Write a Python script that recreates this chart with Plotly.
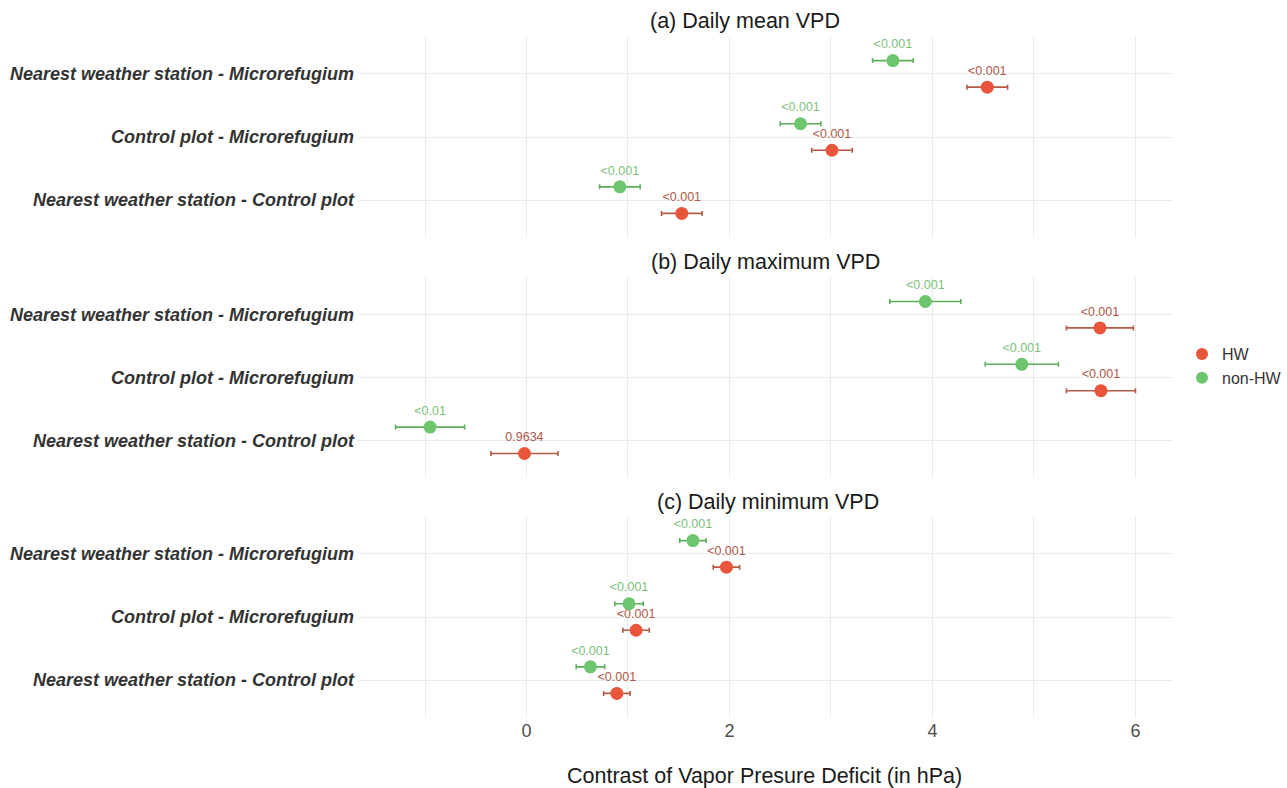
import plotly.graph_objects as go

# ---------------- data ----------------
categories = ["Nearest weather station - Control plot",
              "Control plot - Microrefugium",
              "Nearest weather station - Microrefugium"]
panel_titles = ["(a) Daily mean VPD", "(b) Daily maximum VPD", "(c) Daily minimum VPD"]
groups = ["HW", "non-HW"]

mean_hw = [1.53, 3.01, 4.54]
mean_hw_err = [0.20, 0.20, 0.20]
mean_hw_p = ["<0.001", "<0.001", "<0.001"]
mean_nonhw = [0.92, 2.70, 3.61]
mean_nonhw_err = [0.20, 0.20, 0.20]
mean_nonhw_p = ["<0.001", "<0.001", "<0.001"]

max_hw = [-0.02, 5.66, 5.65]
max_hw_err = [0.33, 0.34, 0.33]
max_hw_p = ["0.9634", "<0.001", "<0.001"]
max_nonhw = [-0.95, 4.88, 3.93]
max_nonhw_err = [0.34, 0.36, 0.35]
max_nonhw_p = ["<0.01", "<0.001", "<0.001"]

min_hw = [0.89, 1.08, 1.97]
min_hw_err = [0.13, 0.13, 0.13]
min_hw_p = ["<0.001", "<0.001", "<0.001"]
min_nonhw = [0.63, 1.01, 1.64]
min_nonhw_err = [0.14, 0.14, 0.13]
min_nonhw_p = ["<0.001", "<0.001", "<0.001"]

x_tick_vals = [0, 2, 4, 6]
x_title = "Contrast of Vapor Presure Deficit (in hPa)"

# ---------------- styling ----------------
W, H = 1287, 788
FONT = "Liberation Sans, Arial, sans-serif"
marker_col = {"HW": "#E9553B", "non-HW": "#6DC56E"}
err_col = {"HW": "#B35A45", "non-HW": "#5DAE5D"}
text_col = {"HW": "#B0574A", "non-HW": "#7CBF7C"}
offset = {"HW": -0.21, "non-HW": 0.21}
grid_col = "#EBEBEB"


def sx(px):
    return px / W


def sy(py):
    return 1 - py / H


panels = [
    {"HW": (mean_hw, mean_hw_err, mean_hw_p), "non-HW": (mean_nonhw, mean_nonhw_err, mean_nonhw_p)},
    {"HW": (max_hw, max_hw_err, max_hw_p), "non-HW": (max_nonhw, max_nonhw_err, max_nonhw_p)},
    {"HW": (min_hw, min_hw_err, min_hw_p), "non-HW": (min_nonhw, min_nonhw_err, min_nonhw_p)},
]

# pixel layout -> paper coords
x_dom = [sx(357), sx(1172)]
panel_px = [(36, 238), (277, 478), (516, 718)]
title_px = [(648, 21), (649, 262), (655, 502)]
y_doms = [[sy(b), sy(t)] for t, b in panel_px]

fig = go.Figure()
cat_pos = [1, 2, 3]

for i, pdata in enumerate(panels):
    ax = "" if i == 0 else str(i + 1)
    for g in groups:
        vals, errs, ps = pdata[g]
        fig.add_trace(go.Scatter(
            x=vals,
            y=[c + offset[g] for c in cat_pos],
            mode="markers+text",
            name=g,
            legendgroup=g,
            showlegend=(i == 0),
            marker=dict(color=marker_col[g], size=13),
            error_x=dict(type="data", array=errs, visible=True,
                         color=err_col[g], thickness=1.6, width=2.5),
            text=ps,
            textposition="top center",
            textfont=dict(family=FONT, size=12.5, color=text_col[g]),
            xaxis="x" + ax, yaxis="y" + ax,
            cliponaxis=False,
        ))

layout = dict(
    width=W, height=H,
    margin=dict(l=0, r=0, t=0, b=0),
    paper_bgcolor="white", plot_bgcolor="white",
    font=dict(family=FONT, color="#333333"),
    showlegend=True,
    legend=dict(x=sx(1182), y=sy(366), xanchor="left", yanchor="middle",
                font=dict(size=16, color="#333333"), traceorder="normal",
                itemsizing="constant", bgcolor="rgba(0,0,0,0)"),
)

for i in range(3):
    ax = "" if i == 0 else str(i + 1)
    layout["xaxis" + ax] = dict(
        domain=x_dom, range=[-1.67, 6.36], anchor="y" + ax,
        tickvals=x_tick_vals, ticktext=[str(v) for v in x_tick_vals],
        showticklabels=(i == 2),
        tickfont=dict(size=18, color="#4D4D4D"),
        showgrid=True, gridcolor=grid_col, gridwidth=1,
        minor=dict(dtick=1, tick0=0, showgrid=True, gridcolor=grid_col, gridwidth=1),
        zeroline=False, showline=False, ticks="", automargin=False,
    )
    layout["yaxis" + ax] = dict(
        domain=y_doms[i], range=[0.4, 3.6], anchor="x" + ax,
        tickvals=cat_pos, ticktext=categories,
        tickfont=dict(size=18, color="#333333", weight="bold", style="italic"),
        showgrid=True, gridcolor=grid_col, gridwidth=1,
        zeroline=False, showline=False, ticks="", automargin=False,
        ticklabelstandoff=2,
    )

annotations = []
for i, t in enumerate(panel_titles):
    px, py = title_px[i]
    annotations.append(dict(text=t, x=sx(px), y=sy(py), xref="paper", yref="paper",
                            xanchor="left", yanchor="middle", showarrow=False,
                            font=dict(size=21.5, color="#1A1A1A")))
annotations.append(dict(text=x_title, x=(x_dom[0] + x_dom[1]) / 2, y=sy(776),
                        xref="paper", yref="paper", xanchor="center", yanchor="middle",
                        showarrow=False, font=dict(size=21.5, color="#1A1A1A")))
layout["annotations"] = annotations

fig.update_layout(**layout)
fig.write_html("out.html",
               config={"displayModeBar": False},
               post_script="document.body.style.margin='0';document.body.style.overflow='hidden';")
